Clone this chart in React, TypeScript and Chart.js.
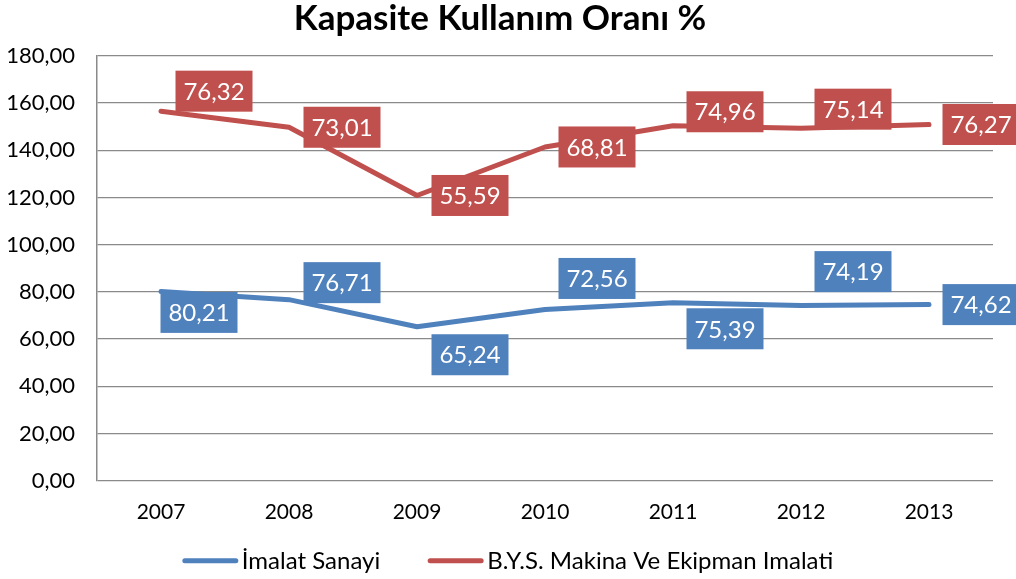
import React, { useEffect, useRef } from "react";
import { Chart, registerables } from "chart.js";

Chart.register(...registerables);

const years = ["2007", "2008", "2009", "2010", "2011", "2012", "2013"];
const imalatSanayi = [80.21, 76.71, 65.24, 72.56, 75.39, 74.19, 74.62];
const bysMakina = [76.32, 73.01, 55.59, 68.81, 74.96, 75.14, 76.27];
const yTicks = [0, 20, 40, 60, 80, 100, 120, 140, 160, 180];

// label placement relative to each point (label centre offset)
const blueLabelDX = [38, 53, 53, 52, 52, 52, 52];
const blueLabelDY = [21, -17, 28, -31, 26, -34, 0];
const redLabelDX = [53, 53, 53, 52, 52, 52, 52];
const redLabelDY = [-20, 0, 0, 0, -14, -19, 0];

const BLUE = "#4F81BD";
const RED = "#C0504D";
const FONT = "Lato, 'Open Sans', 'DejaVu Sans', sans-serif";

const fmt = (v: number) => v.toFixed(2).replace(".", ",");

const labelPlugin = {
  id: "boxLabels",
  afterDatasetsDraw(chart: any) {
    const ctx = chart.ctx;
    const cfg = [
      { values: imalatSanayi, dx: blueLabelDX, dy: blueLabelDY, color: BLUE },
      { values: bysMakina, dx: redLabelDX, dy: redLabelDY, color: RED },
    ];
    ctx.save();
    ctx.font = `24px ${FONT}`;
    ctx.textAlign = "center";
    ctx.textBaseline = "middle";
    cfg.forEach((c, di) => {
      const meta = chart.getDatasetMeta(di);
      meta.data.forEach((pt: any, i: number) => {
        const text = fmt(c.values[i]);
        const cx = pt.x + c.dx[i];
        const cy = pt.y + c.dy[i];
        const w = 77;
        const h = 41;
        ctx.fillStyle = c.color;
        ctx.fillRect(cx - w / 2, cy - h / 2, w, h);
        ctx.fillStyle = "#ffffff";
        ctx.fillText(text, cx, cy + 1);
      });
    });
    ctx.restore();
  },
};

const legendPlugin = {
  id: "lineLegend",
  afterDraw(chart: any) {
    const ctx = chart.ctx;
    const items = [
      { text: "İmalat Sanayi", color: BLUE },
      { text: "B.Y.S. Makina Ve Ekipman Imalati", color: RED },
    ];
    ctx.save();
    ctx.font = `24px ${FONT}`;
    ctx.textBaseline = "middle";
    ctx.textAlign = "left";
    const lineW = 55;
    const gapText = 4;
    const gapItems = 48;
    const widths = items.map((it) => lineW + gapText + ctx.measureText(it.text).width);
    const total = widths.reduce((a, b) => a + b, 0) + gapItems * (items.length - 1);
    let x = (chart.width - total) / 2;
    const y = chart.chartArea.bottom + 80;
    items.forEach((it, i) => {
      ctx.strokeStyle = it.color;
      ctx.lineWidth = 5;
      ctx.lineCap = "round";
      ctx.beginPath();
      ctx.moveTo(x + 2, y);
      ctx.lineTo(x + lineW - 2, y);
      ctx.stroke();
      ctx.fillStyle = "#000000";
      ctx.fillText(it.text, x + lineW + gapText, y);
      x += widths[i] + gapItems;
    });
    ctx.restore();
  },
};

export default function App() {
  const ref = useRef<HTMLCanvasElement>(null);
  useEffect(() => {
    document.body.style.margin = "0";
    const canvas = ref.current!;
    const chart = new Chart(canvas, {
      type: "line",
      data: {
        labels: years,
        datasets: [
          {
            label: "İmalat Sanayi",
            data: imalatSanayi,
            borderColor: BLUE,
            backgroundColor: BLUE,
            borderWidth: 5,
            borderCapStyle: "round",
            borderJoinStyle: "round",
            pointRadius: 0,
            tension: 0,
            fill: false,
          },
          {
            label: "B.Y.S. Makina Ve Ekipman Imalati",
            data: bysMakina,
            borderColor: RED,
            backgroundColor: RED,
            borderWidth: 5,
            borderCapStyle: "round",
            borderJoinStyle: "round",
            pointRadius: 0,
            tension: 0,
            fill: false,
          },
        ],
      },
      options: {
        animation: false,
        responsive: false,
        layout: { padding: { left: 7, right: 23, top: 0, bottom: 35 } },
        plugins: {
          legend: { display: false },
          tooltip: { enabled: false },
          title: {
            display: true,
            text: "Kapasite Kullanım Oranı %",
            color: "#000000",
            font: { family: FONT, size: 35, weight: "bold", lineHeight: 1.05 },
            padding: { top: 0, bottom: 19 },
          },
        },
        scales: {
          x: {
            offset: true,
            grid: { display: false, drawTicks: false },
            border: { display: false },
            ticks: { color: "#000000", font: { family: FONT, size: 21 }, padding: 19 },
          },
          y: {
            stacked: true,
            min: yTicks[0],
            max: yTicks[yTicks.length - 1],
            afterBuildTicks: (axis: any) => {
              axis.ticks = yTicks.map((v) => ({ value: v }));
            },
            afterFit: (axis: any) => {
              axis.width = 90;
            },
            grid: { color: "#8a8a8a", lineWidth: 1.25, drawTicks: false },
            border: { display: true, color: "#8a8a8a", width: 1.5 },
            ticks: {
              color: "#000000",
              font: { family: FONT, size: 22 },
              padding: 22,
              callback: (v: any) => fmt(Number(v)),
            },
          },
        },
      },
      plugins: [labelPlugin, legendPlugin],
    });
    return () => chart.destroy();
  }, []);
  return <canvas ref={ref} width={1016} height={579} style={{ display: "block" }} />;
}
